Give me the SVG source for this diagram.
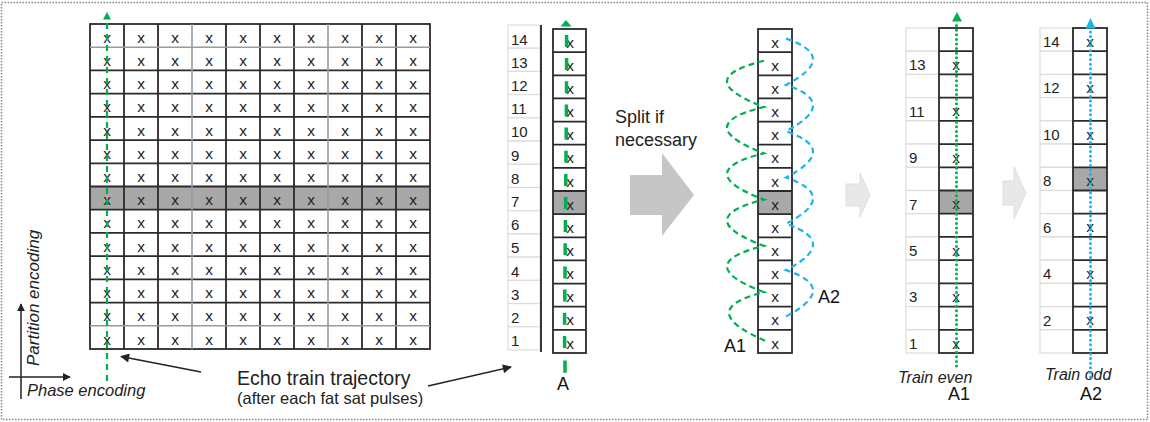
<svg xmlns="http://www.w3.org/2000/svg" width="1150" height="422" viewBox="0 0 1150 422">
<style>
  text { font-family: "Liberation Sans", Arial, sans-serif; fill: #222; }
  .xm { font-size: 15.5px; text-anchor: middle; fill: #111; }
  .num { font-size: 15px; fill: #333; }
  .lbl { font-size: 18px; fill: #111; }
  .it { font-style: italic; font-size: 16px; fill: #222; }
  .grid { stroke: #2a2a2a; stroke-width: 1.8; fill: none; }
  .gridl { stroke: #9a9a9a; stroke-width: 1.6; fill: none; }
  .ncell { fill: #fff; stroke: #dcdcdc; stroke-width: 1.2; }
  .hl { fill: #a8a8a8; }
  .gdash { stroke: #00b050; stroke-width: 2.2; fill: none; stroke-dasharray: 6 4; }
  .bdash { stroke: #1cb4ee; stroke-width: 2.2; fill: none; stroke-dasharray: 6 4; }
  .gdot { stroke: #00b050; stroke-width: 3; fill: none; stroke-dasharray: 0 4.6; stroke-linecap: round; }
  .bdot { stroke: #1cb4ee; stroke-width: 3; fill: none; stroke-dasharray: 0 4.6; stroke-linecap: round; }
  .blk { stroke: #222; stroke-width: 1.5; fill: none; }
</style>
<defs>
  <marker id="ah" viewBox="0 0 10 10" refX="9" refY="5" markerWidth="8" markerHeight="8" markerUnits="userSpaceOnUse" orient="auto">
    <path d="M0,0 L10,5 L0,10 z" fill="#222"/>
  </marker>
  <marker id="ah2" viewBox="0 0 10 10" refX="9" refY="5" markerWidth="11" markerHeight="9" markerUnits="userSpaceOnUse" orient="auto">
    <path d="M0,0 L10,5 L0,10 z" fill="#222"/>
  </marker>
</defs>

<rect x="1.5" y="2.5" width="1146" height="417" fill="#fff" stroke="#888" stroke-width="1.5" stroke-dasharray="1.5 1.5"/>

<!-- Main k-space grid -->
<g id="main-grid">
  <rect class="hl" x="90" y="186.5" width="340" height="23.2"/>
  <g class="grid">
    <rect x="90" y="24" width="340" height="325"/>
    <path d="M90,70.43H430 M90,93.64H430 M90,116.86H430 M90,140.07H430 M90,163.29H430 M90,186.5H430 M90,209.71H430 M90,232.93H430 M90,256.14H430 M90,279.36H430 M90,302.57H430"/>
    <path d="M124,24V349 M158,24V349 M226,24V349 M260,24V349 M294,24V349 M362,24V349 M396,24V349"/>
  </g>
  <g class="gridl">
    <path d="M90,47.21H430 M90,325.79H430 M192,24V349 M328,24V349"/>
  </g>
  <g class="xm">
    <text x="107 141 175 209 243 277 311 345 379 413" y="42.7">xxxxxxxxxx</text>
    <text x="107 141 175 209 243 277 311 345 379 413" y="65.9">xxxxxxxxxx</text>
    <text x="107 141 175 209 243 277 311 345 379 413" y="89.1">xxxxxxxxxx</text>
    <text x="107 141 175 209 243 277 311 345 379 413" y="112.3">xxxxxxxxxx</text>
    <text x="107 141 175 209 243 277 311 345 379 413" y="135.6">xxxxxxxxxx</text>
    <text x="107 141 175 209 243 277 311 345 379 413" y="158.8">xxxxxxxxxx</text>
    <text x="107 141 175 209 243 277 311 345 379 413" y="182.0">xxxxxxxxxx</text>
    <text x="107 141 175 209 243 277 311 345 379 413" y="205.2">xxxxxxxxxx</text>
    <text x="107 141 175 209 243 277 311 345 379 413" y="228.4">xxxxxxxxxx</text>
    <text x="107 141 175 209 243 277 311 345 379 413" y="251.6">xxxxxxxxxx</text>
    <text x="107 141 175 209 243 277 311 345 379 413" y="274.8">xxxxxxxxxx</text>
    <text x="107 141 175 209 243 277 311 345 379 413" y="298.1">xxxxxxxxxx</text>
    <text x="107 141 175 209 243 277 311 345 379 413" y="321.3">xxxxxxxxxx</text>
    <text x="107 141 175 209 243 277 311 345 379 413" y="344.5">xxxxxxxxxx</text>
  </g>
</g>

<!-- Axes -->
<g id="axes">
  <line class="blk" x1="21" y1="399" x2="21" y2="304" marker-end="url(#ah)"/>
  <line class="blk" x1="9" y1="377" x2="70" y2="377" marker-end="url(#ah)"/>
  <text class="it" transform="translate(39,366) rotate(-90)" style="font-size:17px">Partition encoding</text>
  <text class="it" x="27" y="396" style="font-size:16.5px">Phase encoding</text>
</g>

<!-- Echo train label -->
<g id="echo-label">
  <text x="237" y="385" style="font-size:19.5px">Echo train trajectory</text>
  <text x="237" y="404" style="font-size:16.5px">(after each fat sat pulses)</text>
</g>

<!-- Column A with partition numbers -->
<g id="column-a">
  <g>
    <rect class="ncell" x="508" y="25" width="32" height="23.21"/>
    <rect class="ncell" x="508" y="48.21" width="32" height="23.21"/>
    <rect class="ncell" x="508" y="71.43" width="32" height="23.21"/>
    <rect class="ncell" x="508" y="94.64" width="32" height="23.21"/>
    <rect class="ncell" x="508" y="117.86" width="32" height="23.21"/>
    <rect class="ncell" x="508" y="141.07" width="32" height="23.21"/>
    <rect class="ncell" x="508" y="164.29" width="32" height="23.21"/>
    <rect class="ncell" x="508" y="187.5" width="32" height="23.21"/>
    <rect class="ncell" x="508" y="210.71" width="32" height="23.21"/>
    <rect class="ncell" x="508" y="233.93" width="32" height="23.21"/>
    <rect class="ncell" x="508" y="257.14" width="32" height="23.21"/>
    <rect class="ncell" x="508" y="280.36" width="32" height="23.21"/>
    <rect class="ncell" x="508" y="303.57" width="32" height="23.21"/>
    <rect class="ncell" x="508" y="326.79" width="32" height="23.21"/>
  </g>
  <g class="num">
    <text x="511" y="44.5">14</text>
    <text x="511" y="67.7">13</text>
    <text x="511" y="90.9">12</text>
    <text x="511" y="114.1">11</text>
    <text x="511" y="137.4">10</text>
    <text x="511" y="160.6">9</text>
    <text x="511" y="183.8">8</text>
    <text x="511" y="207">7</text>
    <text x="511" y="230.2">6</text>
    <text x="511" y="253.4">5</text>
    <text x="511" y="276.6">4</text>
    <text x="511" y="299.9">3</text>
    <text x="511" y="323.1">2</text>
    <text x="511" y="346.3">1</text>
  </g>
  <line x1="541" y1="25" x2="541" y2="352" stroke="#222" stroke-width="1.8"/>
  <rect class="hl" x="553" y="191" width="33" height="23.14"/>
  <g class="grid">
    <rect x="553" y="29" width="33" height="324"/>
    <path d="M553,52.14H586 M553,75.29H586 M553,98.43H586 M553,121.57H586 M553,144.71H586 M553,167.86H586 M553,191H586 M553,214.14H586 M553,237.29H586 M553,260.43H586 M553,283.57H586 M553,306.71H586 M553,329.86H586"/>
  </g>
  <g class="xm">
    <text x="570" y="47.7">x</text>
    <text x="570" y="70.8">x</text>
    <text x="570" y="94">x</text>
    <text x="570" y="117.1">x</text>
    <text x="570" y="140.3">x</text>
    <text x="570" y="163.4">x</text>
    <text x="570" y="186.6">x</text>
    <text x="570" y="209.7">x</text>
    <text x="570" y="232.8">x</text>
    <text x="570" y="256">x</text>
    <text x="570" y="279.1">x</text>
    <text x="570" y="302.3">x</text>
    <text x="570" y="325.4">x</text>
    <text x="570" y="348.6">x</text>
  </g>
  <text class="lbl" x="557" y="390">A</text>
</g>

<!-- Split arrow -->
<g id="split">
  <polygon points="630,175 662,175 662,153 694,195 662,236 662,215 630,215" fill="#c6c6c6"/>
  <text x="615" y="123" style="font-size:18px">Split if</text>
  <text x="615" y="146" style="font-size:18px">necessary</text>
</g>

<!-- Interleaved column -->
<g id="split-column">
  <rect class="hl" x="758" y="191" width="34" height="23.14"/>
  <g class="grid">
    <rect x="758" y="29" width="34" height="324"/>
    <path d="M758,52.14H792 M758,75.29H792 M758,98.43H792 M758,121.57H792 M758,144.71H792 M758,167.86H792 M758,191H792 M758,214.14H792 M758,237.29H792 M758,260.43H792 M758,283.57H792 M758,306.71H792 M758,329.86H792"/>
  </g>
  <g class="xm">
    <text x="775" y="47.7">x</text>
    <text x="775" y="70.8">x</text>
    <text x="775" y="94">x</text>
    <text x="775" y="117.1">x</text>
    <text x="775" y="140.3">x</text>
    <text x="775" y="163.4">x</text>
    <text x="775" y="186.6">x</text>
    <text x="775" y="209.7">x</text>
    <text x="775" y="232.8">x</text>
    <text x="775" y="256">x</text>
    <text x="775" y="279.1">x</text>
    <text x="775" y="302.3">x</text>
    <text x="775" y="325.4">x</text>
    <text x="775" y="348.6">x</text>
  </g>
  <text class="lbl" x="724" y="352">A1</text>
  <text class="lbl" x="818" y="303">A2</text>
</g>

<!-- Small transition arrows -->
<g id="small-arrows">
  <polygon points="846,184 860,184 860,173 870,195 860,217 860,206 846,206" fill="#e8e8e8" stroke="#dedede" stroke-width="1"/>
  <polygon points="1003,181 1014,181 1014,167 1026,193 1014,219 1014,205 1003,205" fill="#e8e8e8" stroke="#dedede" stroke-width="1"/>
</g>

<!-- Train even -->
<g id="train-even">
  <g>
    <rect class="ncell" x="906" y="28" width="33" height="23.21"/>
    <rect class="ncell" x="906" y="51.21" width="33" height="23.21"/>
    <rect class="ncell" x="906" y="74.43" width="33" height="23.21"/>
    <rect class="ncell" x="906" y="97.64" width="33" height="23.21"/>
    <rect class="ncell" x="906" y="120.86" width="33" height="23.21"/>
    <rect class="ncell" x="906" y="144.07" width="33" height="23.21"/>
    <rect class="ncell" x="906" y="167.29" width="33" height="23.21"/>
    <rect class="ncell" x="906" y="190.5" width="33" height="23.21"/>
    <rect class="ncell" x="906" y="213.71" width="33" height="23.21"/>
    <rect class="ncell" x="906" y="236.93" width="33" height="23.21"/>
    <rect class="ncell" x="906" y="260.14" width="33" height="23.21"/>
    <rect class="ncell" x="906" y="283.36" width="33" height="23.21"/>
    <rect class="ncell" x="906" y="306.57" width="33" height="23.21"/>
    <rect class="ncell" x="906" y="329.79" width="33" height="23.21"/>
  </g>
  <g class="num">
    <text x="909" y="70.2">13</text>
    <text x="909" y="116.6">11</text>
    <text x="909" y="163.1">9</text>
    <text x="909" y="209.5">7</text>
    <text x="909" y="255.9">5</text>
    <text x="909" y="302.4">3</text>
    <text x="909" y="348.8">1</text>
  </g>
  <rect class="hl" x="939" y="190.5" width="34" height="23.21"/>
  <g class="grid">
    <rect x="939" y="28" width="34" height="325"/>
    <path d="M939,51.21H973 M939,74.43H973 M939,97.64H973 M939,120.86H973 M939,144.07H973 M939,167.29H973 M939,190.5H973 M939,213.71H973 M939,236.93H973 M939,260.14H973 M939,283.36H973 M939,306.57H973 M939,329.79H973"/>
  </g>
  <g class="xm">
    <text x="956" y="69.9">x</text>
    <text x="956" y="116.3">x</text>
    <text x="956" y="162.8">x</text>
    <text x="956" y="209.2">x</text>
    <text x="956" y="255.6">x</text>
    <text x="956" y="302.1">x</text>
    <text x="956" y="348.5">x</text>
  </g>
  <text class="it" x="898" y="383">Train even</text>
  <text class="lbl" x="948" y="400">A1</text>
</g>

<!-- Train odd -->
<g id="train-odd">
  <g>
    <rect class="ncell" x="1040" y="28" width="33" height="23.21"/>
    <rect class="ncell" x="1040" y="51.21" width="33" height="23.21"/>
    <rect class="ncell" x="1040" y="74.43" width="33" height="23.21"/>
    <rect class="ncell" x="1040" y="97.64" width="33" height="23.21"/>
    <rect class="ncell" x="1040" y="120.86" width="33" height="23.21"/>
    <rect class="ncell" x="1040" y="144.07" width="33" height="23.21"/>
    <rect class="ncell" x="1040" y="167.29" width="33" height="23.21"/>
    <rect class="ncell" x="1040" y="190.5" width="33" height="23.21"/>
    <rect class="ncell" x="1040" y="213.71" width="33" height="23.21"/>
    <rect class="ncell" x="1040" y="236.93" width="33" height="23.21"/>
    <rect class="ncell" x="1040" y="260.14" width="33" height="23.21"/>
    <rect class="ncell" x="1040" y="283.36" width="33" height="23.21"/>
    <rect class="ncell" x="1040" y="306.57" width="33" height="23.21"/>
    <rect class="ncell" x="1040" y="329.79" width="33" height="23.21"/>
  </g>
  <g class="num">
    <text x="1043" y="47">14</text>
    <text x="1043" y="93.4">12</text>
    <text x="1043" y="139.9">10</text>
    <text x="1043" y="186.3">8</text>
    <text x="1043" y="232.7">6</text>
    <text x="1043" y="279.1">4</text>
    <text x="1043" y="325.6">2</text>
  </g>
  <rect class="hl" x="1073" y="167.29" width="34" height="23.21"/>
  <g class="grid">
    <rect x="1073" y="28" width="34" height="325"/>
    <path d="M1073,51.21H1107 M1073,74.43H1107 M1073,97.64H1107 M1073,120.86H1107 M1073,144.07H1107 M1073,167.29H1107 M1073,190.5H1107 M1073,213.71H1107 M1073,236.93H1107 M1073,260.14H1107 M1073,283.36H1107 M1073,306.57H1107 M1073,329.79H1107"/>
  </g>
  <g class="xm">
    <text x="1090" y="46.7">x</text>
    <text x="1090" y="93.1">x</text>
    <text x="1090" y="139.6">x</text>
    <text x="1090" y="186">x</text>
    <text x="1090" y="232.4">x</text>
    <text x="1090" y="278.8">x</text>
    <text x="1090" y="325.3">x</text>
  </g>
  <text class="it" x="1045" y="380">Train odd</text>
  <text class="lbl" x="1080" y="400">A2</text>
</g>

<!-- Connectors / trajectories -->
<g id="connectors">
  <line class="blk" x1="201" y1="372" x2="121" y2="356.5" marker-end="url(#ah2)"/>
  <line class="blk" x1="428" y1="386" x2="511" y2="367" marker-end="url(#ah2)"/>

  <path d="M107,381V19" stroke="#00b050" stroke-width="2.2" stroke-dasharray="6 5" fill="none"/>
  <polygon points="103,19.5 111,19.5 107,12" fill="#00b050"/>

  <path d="M566.6,35V47 M566.6,58.1V70.1 M566.5,81.3V93.3 M566.4,104.4V116.4 M566.2,127.6V139.6 M566,150.7V162.7 M565.8,173.9V185.9 M565.6,197V209 M565.4,220.1V232.1 M565.2,243.3V255.3 M565,266.4V278.4 M564.8,289.6V301.6 M564.6,312.7V324.7 M564.6,335.9V347.9 M565,360.5V372.7" stroke="#00b050" stroke-width="3.5" fill="none"/>
  <polygon points="560.5,26.5 571.5,26.5 566,20" fill="#00b050"/>

  <path class="gdash" d="M764,60.7 Q690,79 764,107 Q690,125 764,153.3 Q690,171.5 764,199.6 Q690,218 764,245.9 Q690,264 764,292.2 Q692,310 768,342"/>
  <path class="bdash" d="M786,38.6 Q840,57 786,84.9 Q840,103 786,131.2 Q840,149.4 786,177.5 Q840,196 786,223.8 Q840,242 786,270.1 Q840,288 786,316.4"/>

  <path class="gdot" d="M956.5,366V22"/>
  <polygon points="952,21.5 962,21.5 957,12" fill="#00b050"/>

  <path class="bdot" d="M1090.5,377V29"/>
  <polygon points="1085.5,28.5 1095.5,28.5 1090.5,18" fill="#1cb4ee"/>
</g>
</svg>
